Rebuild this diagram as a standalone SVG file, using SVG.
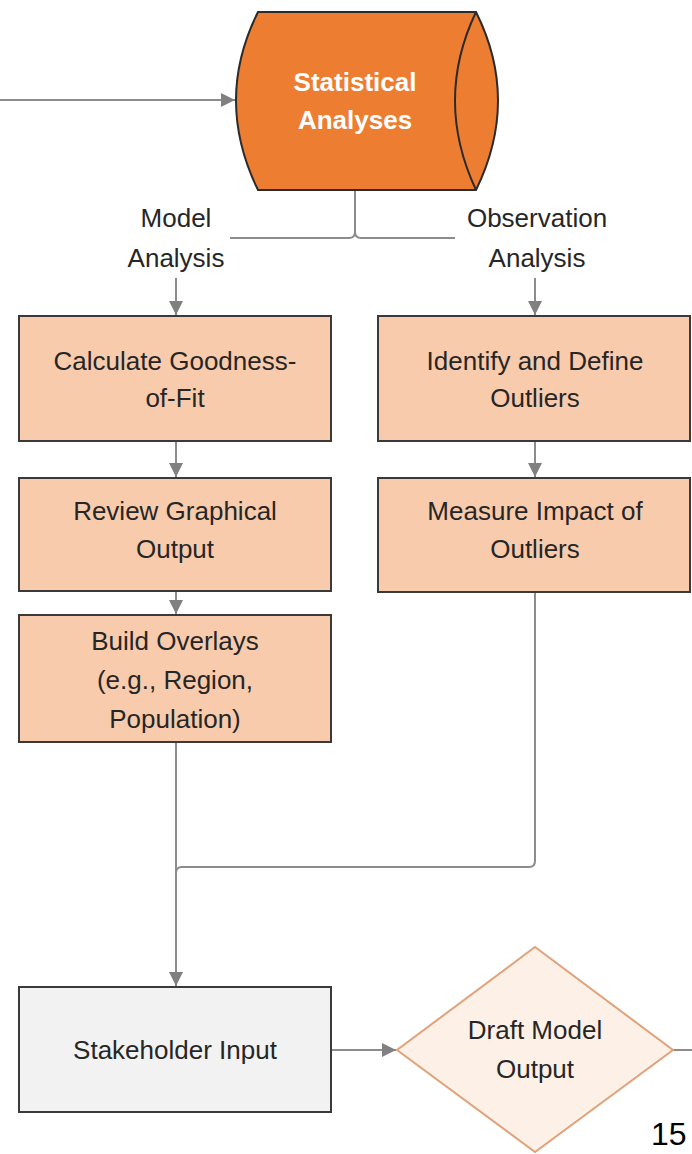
<svg xmlns="http://www.w3.org/2000/svg" width="692" height="1154" viewBox="0 0 692 1154">
<defs>
<style>
.t{font-family:"Liberation Sans",Arial,sans-serif;font-size:26px;fill:#262626;text-anchor:middle}
.box{fill:#F8CBAD;stroke:#3a3a3a;stroke-width:2}
.c{fill:none;stroke:#8c8c8c;stroke-width:2}
</style>
<marker id="a" viewBox="0 0 10 10" refX="10" refY="5" markerWidth="14" markerHeight="14" markerUnits="userSpaceOnUse" orient="auto">
<path d="M0,0 L10,5 L0,10 z" fill="#808080"/>
</marker>
</defs>
<rect width="692" height="1154" fill="#fff"/>
<g id="connectors">
<line class="c" x1="0" y1="100" x2="235" y2="100" marker-end="url(#a)"/>
<path class="c" d="M355,190 V232 Q355,238 349,238 H230 M355,232 Q355,238 361,238 H455"/>
<line class="c" x1="176" y1="278" x2="176" y2="315" marker-end="url(#a)"/>
<line class="c" x1="535" y1="278" x2="535" y2="315" marker-end="url(#a)"/>
<line class="c" x1="176" y1="442" x2="176" y2="477" marker-end="url(#a)"/>
<line class="c" x1="535" y1="442" x2="535" y2="477" marker-end="url(#a)"/>
<line class="c" x1="176" y1="591" x2="176" y2="614" marker-end="url(#a)"/>
<line class="c" x1="176" y1="743" x2="176" y2="986" marker-end="url(#a)"/>
<path class="c" d="M535,593 V861 Q535,867 529,867 H182 Q176,867 176,873"/>
<line class="c" x1="331" y1="1050" x2="396" y2="1050" marker-end="url(#a)"/>
<line class="c" x1="673" y1="1050" x2="692" y2="1050"/>
</g>
<g id="statistical-analyses">
<path d="M258,12 H476 Q520,100 476,190 H258 Q214,100 258,12 z" fill="#ED7D31" stroke="#2b2b2b" stroke-width="2"/>
<path d="M476,12 Q434,100 476,190" fill="none" stroke="#2b2b2b" stroke-width="2"/>
<text class="t" x="355" y="91" style="fill:#fff;font-weight:bold">Statistical</text>
<text class="t" x="355" y="129" style="fill:#fff;font-weight:bold">Analyses</text>
</g>
<g id="label-model">
<text class="t" x="176" y="227">Model</text>
<text class="t" x="176" y="267">Analysis</text>
</g>
<g id="label-observation">
<text class="t" x="537" y="227">Observation</text>
<text class="t" x="537" y="267">Analysis</text>
</g>
<g id="calc-gof">
<rect class="box" x="19" y="316" width="312" height="125"/>
<text class="t" x="175" y="370">Calculate Goodness-</text>
<text class="t" x="175" y="407">of-Fit</text>
</g>
<g id="identify-outliers">
<rect class="box" x="378" y="316" width="312" height="125"/>
<text class="t" x="535" y="370">Identify and Define</text>
<text class="t" x="535" y="407">Outliers</text>
</g>
<g id="review-graphical">
<rect class="box" x="19" y="478" width="312" height="113"/>
<text class="t" x="175" y="520">Review Graphical</text>
<text class="t" x="175" y="558">Output</text>
</g>
<g id="measure-impact">
<rect class="box" x="378" y="478" width="312" height="114"/>
<text class="t" x="535" y="520">Measure Impact of</text>
<text class="t" x="535" y="558">Outliers</text>
</g>
<g id="build-overlays">
<rect class="box" x="19" y="615" width="312" height="127"/>
<text class="t" x="175" y="650">Build Overlays</text>
<text class="t" x="175" y="689">(e.g., Region,</text>
<text class="t" x="175" y="728">Population)</text>
</g>
<g id="stakeholder-input">
<rect x="19" y="987" width="312" height="125" fill="#F2F2F2" stroke="#3a3a3a" stroke-width="2"/>
<text class="t" x="175" y="1059">Stakeholder Input</text>
</g>
<g id="draft-model-output">
<path d="M535,947 L673,1050 L535,1152 L397,1050 z" fill="#FDF1E7" stroke="#E0A27A" stroke-width="2"/>
<text class="t" x="535" y="1039">Draft Model</text>
<text class="t" x="535" y="1078">Output</text>
</g>
<text x="651" y="1145" style="font-family:'Liberation Sans',Arial,sans-serif;font-size:32px;fill:#000">15</text>
</svg>
